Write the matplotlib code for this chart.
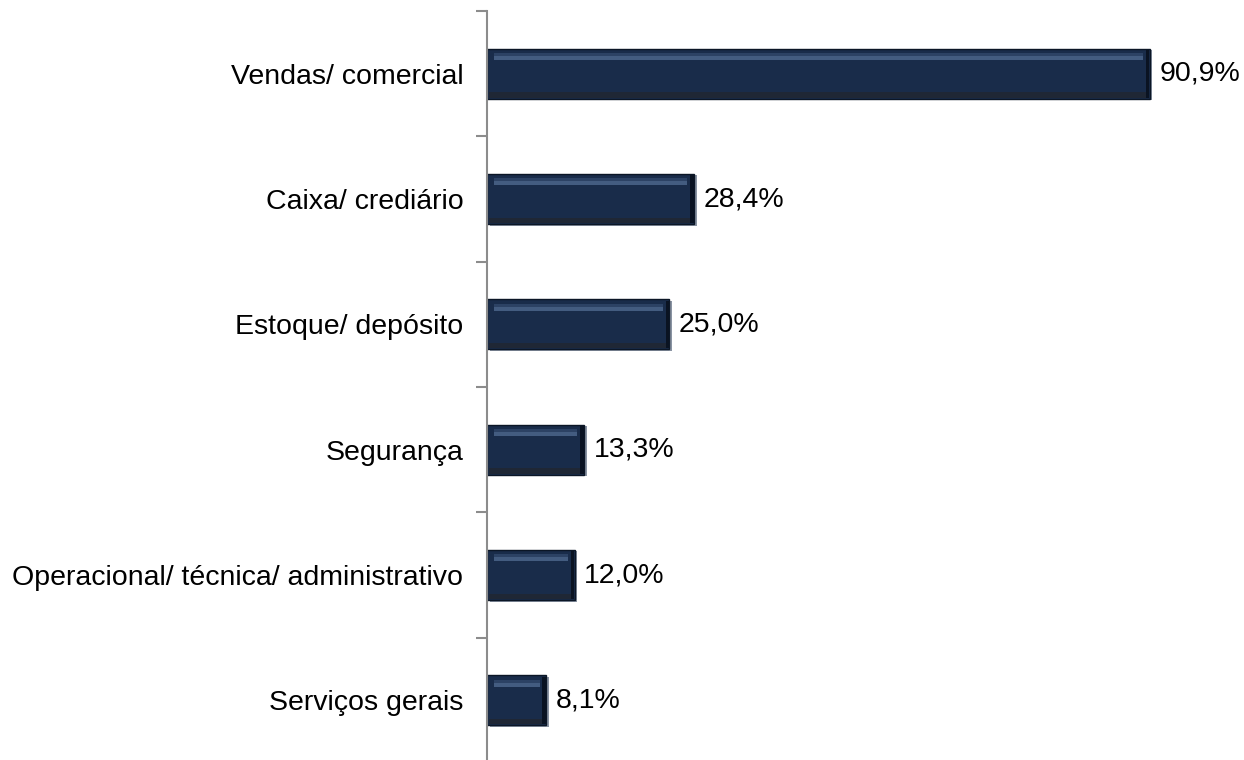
import matplotlib.pyplot as plt
import matplotlib.patches as mpatches

plt.rcParams['font.family'] = ['Liberation Sans', 'DejaVu Sans']

categories = ['Vendas/ comercial', 'Caixa/ crediário', 'Estoque/ depósito',
              'Segurança', 'Operacional/ técnica/ administrativo', 'Serviços gerais']
values = [90.9, 28.4, 25.0, 13.3, 12.0, 8.1]
value_labels = ['90,9%', '28,4%', '25,0%', '13,3%', '12,0%', '8,1%']

fig = plt.figure(figsize=(12.44, 7.6), dpi=100)
ax = fig.add_axes([0.3915, -0.004, 0.586, 0.9895])

n = len(categories)
pos = list(range(n))[::-1]
h = 0.4

# shadow behind the bars
ax.barh([p - 0.012 for p in pos], values, height=h, left=0.35,
        color='#8a94a3', zorder=1)
# main bars
ax.barh(pos, values, height=h, color='#192c4a', edgecolor='#0b1626',
        linewidth=1.0, zorder=2)
# bevel highlights
for p, v in zip(pos, values):
    top = p + h / 2
    ax.add_patch(mpatches.Rectangle((0.9, top - 0.09), v - 1.8, 0.03,
                                    color='#435c80', lw=0, zorder=3))
    ax.add_patch(mpatches.Rectangle((0.9, top - 0.06), v - 1.8, 0.025,
                                    color='#2c4264', lw=0, zorder=3))
    ax.add_patch(mpatches.Rectangle((0.3, p - h / 2 + 0.01), v - 0.6, 0.04,
                                    color='#1f2735', lw=0, zorder=3))
    ax.add_patch(mpatches.Rectangle((v - 0.5, p - h / 2 + 0.01), 0.45, h - 0.02,
                                    color='#0a1322', lw=0, zorder=3))

for p, v, lab in zip(pos, values, value_labels):
    ax.text(v + 1.3, p, lab, va='center', ha='left', fontsize=20.5, color='black')

ax.set_xlim(0, 100)
ax.set_ylim(-0.5, n - 0.5)

ax.set_yticks(pos)
ax.set_yticklabels(categories, fontsize=20.5)
ax.tick_params(axis='y', which='major', length=0, pad=17)
ax.set_yticks([i + 0.5 for i in range(-1, n)], minor=True)
ax.tick_params(axis='y', which='minor', length=8, color='#8c8c8c', width=1.5)
ax.set_xticks([])

for s in ['top', 'right', 'bottom']:
    ax.spines[s].set_visible(False)
ax.spines['left'].set_color('#8c8c8c')
ax.spines['left'].set_linewidth(1.5)

fig.savefig('out.png', dpi=100)
